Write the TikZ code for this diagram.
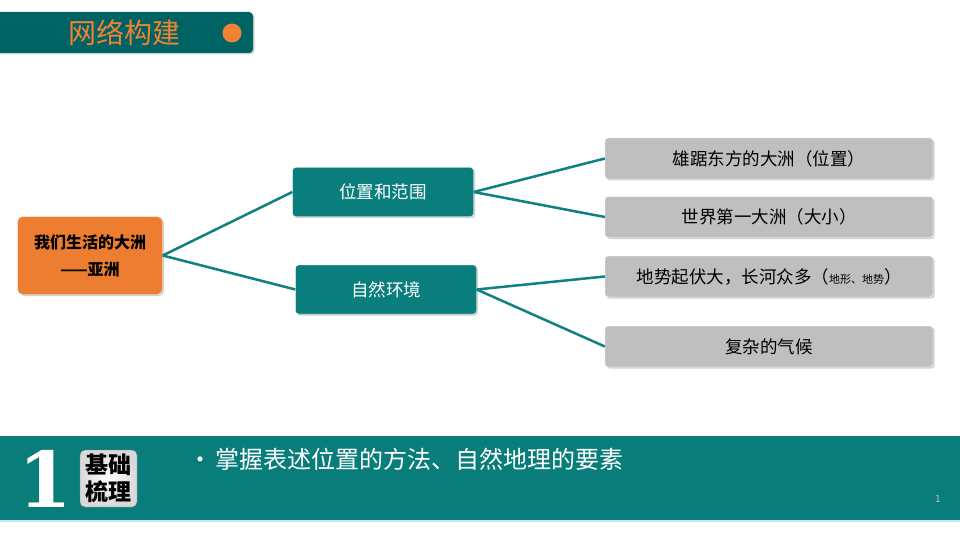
\documentclass[tikz,border=0pt]{standalone}
\usepackage{fontspec}
\setmainfont{Noto Sans CJK SC}
\newfontfamily\numfont{DejaVu Serif}
\usetikzlibrary{positioning, shadows}
\definecolor{headteal}{RGB}{0,99,99}
\definecolor{boxteal}{RGB}{10,126,124}
\definecolor{bandteal}{RGB}{8,125,122}
\definecolor{lineteal}{RGB}{16,128,128}
\definecolor{rootorange}{RGB}{237,125,49}
\definecolor{leafgray}{RGB}{191,191,191}
\definecolor{titleorange}{RGB}{240,130,50}

\begin{document}
\begin{tikzpicture}[
    x=1pt, y=-1pt,
    shade/.style={drop shadow={shadow xshift=1.5pt, shadow yshift=-1.5pt, opacity=0.35}},
    root/.style={draw=white, thin, rounded corners=5pt, fill=rootorange, minimum width=145pt, minimum height=78pt, align=center, font=\fontsize{16}{27}\selectfont\bfseries, shade},
    topic/.style={draw=white, thin, rounded corners=3pt, fill=boxteal, minimum width=181pt, minimum height=49pt, text=white, font=\fontsize{17.5}{20}\selectfont, shade},
    leaf/.style={draw=white, thin, rounded corners=3pt, fill=leafgray, minimum width=328pt, minimum height=41pt, font=\fontsize{17.5}{20}\selectfont, shade},
    link/.style={draw=lineteal, line width=2.5pt}
]
    \useasboundingbox (0,0) rectangle (960,540);
    \fill[white] (0,0) rectangle (960,540);

    % header
    \fill[headteal, rounded corners=4pt, shade] (-10,12) rectangle (253,53);
    \node[text=titleorange, font=\fontsize{28}{30}\selectfont] (title) at (124,33) {网络构建};
    \node[circle, fill=titleorange, minimum size=19pt, inner sep=0pt] (dot) at (232,33) {};

    % mind map
    \node[root] (asia) at (90,255.5) {我们生活的大洲\\——亚洲};
    \node[topic] (range) at (383,192) {位置和范围};
    \node[topic] (nature) at (386,289.5) {自然环境};
    \node[leaf] (pos) at (769,158.5) {雄踞东方的大洲（位置）};
    \node[leaf] (size) at (769,217) {世界第一大洲（大小）};
    \node[leaf] (relief) at (769,276.5) {地势起伏大，长河众多（{\fontsize{11}{12}\selectfont 地形、地势}）};
    \node[leaf] (climate) at (769,346.5) {复杂的气候};

    \draw[link] (asia.east) -- (range.west);
    \draw[link] (asia.east) -- (nature.west);
    \draw[link] (range.east) -- (pos.west);
    \draw[link] (range.east) -- (size.west);
    \draw[link] (nature.east) -- (relief.west);
    \draw[link] (nature.east) -- (climate.west);

    % bottom band
    \fill[bandteal] (0,436) rectangle (960,520);
    \fill[cyan!25] (0,520) rectangle (960,522);
    \node[text=white, font=\numfont\fontsize{77}{77}\selectfont\bfseries] (num) at (45,479) {1};
    \node[draw=black!50, rounded corners=5pt, inner color=white, outer color=black!15, minimum width=57pt, minimum height=57pt, inner sep=0pt, align=center, font=\fontsize{23}{27}\selectfont\bfseries] (basic) at (108.5,478.5) {基础\\梳理};
    \node[text=white, font=\fontsize{24}{26}\selectfont, anchor=west, inner sep=0pt] (goal) at (193,459) {\makebox[22pt][l]{\makebox[15pt]{•}}掌握表述位置的方法、自然地理的要素};
    \node[text=black!25, font=\fontsize{10}{11}\selectfont] (page) at (938,499) {1};
\end{tikzpicture}
\end{document}
